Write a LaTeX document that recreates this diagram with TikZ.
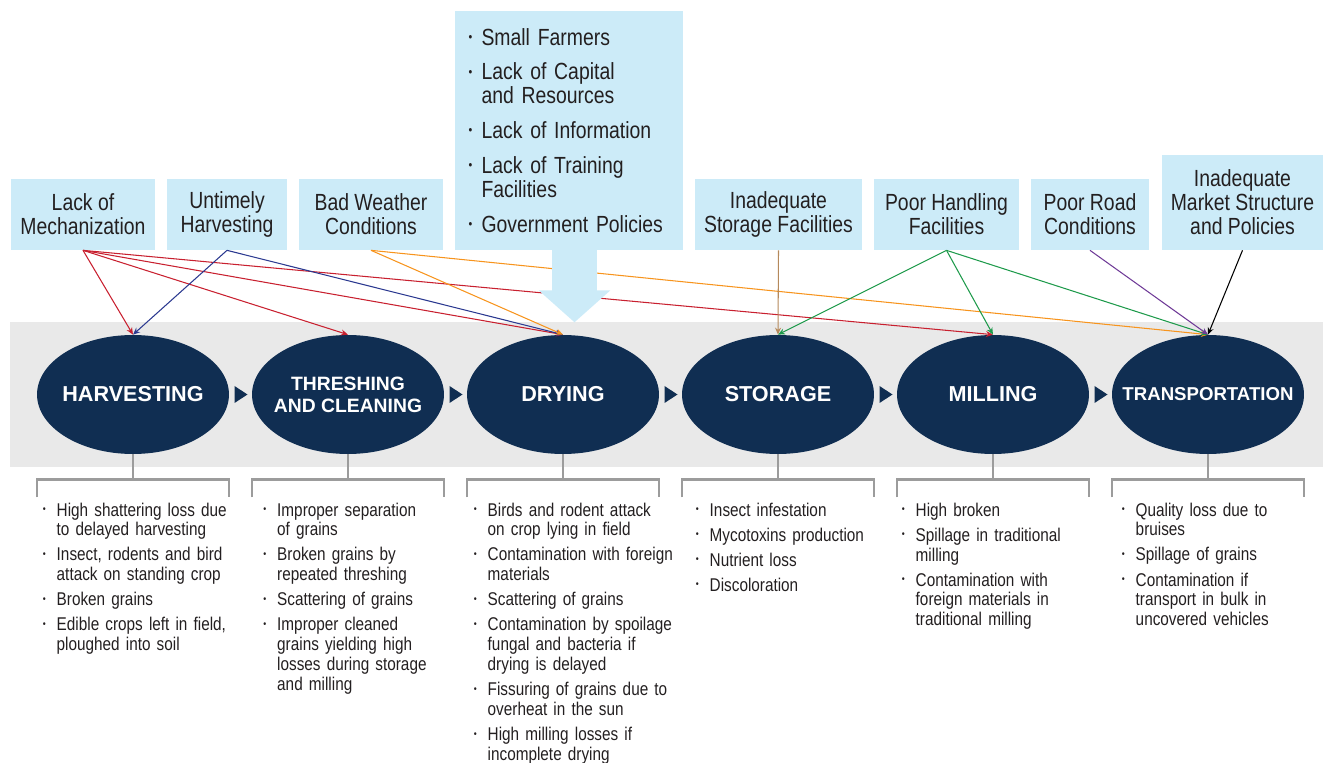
\documentclass[tikz,border=0pt]{standalone}
\usepackage{fontspec}
\setmainfont{Liberation Sans}[FakeStretch=0.83]
\newfontfamily\stagefont{Liberation Sans}
\usetikzlibrary{shapes.geometric,arrows.meta,calc}

\definecolor{navy}{HTML}{102E52}
\definecolor{paleblue}{HTML}{CCEBF8}
\definecolor{bandgray}{HTML}{E9E9E9}
\definecolor{brkgray}{HTML}{9C9C9C}
\definecolor{ink}{HTML}{231F20}
\definecolor{lred}{HTML}{C8202F}
\definecolor{lblue}{HTML}{2B3990}
\definecolor{lorange}{HTML}{F7941D}
\definecolor{ltan}{HTML}{B5895B}
\definecolor{lgreen}{HTML}{1E9A4B}
\definecolor{lpurple}{HTML}{6F3B97}

\newlength\blhang
\newlength\blgap
\newcommand\firstbl[1]{\noindent\hangindent=\blhang\hangafter=1%
  \makebox[\blhang][l]{\raisebox{0.17em}{\scalebox{0.55}{•}}}#1\par}
\newcommand\bl[1]{\vskip\blgap\firstbl{#1}}

\tikzset{
  cause/.style={fill=paleblue,text=ink,inner sep=0pt,minimum height=1.42cm,align=center,
    font=\fontsize{13.3}{13.6}\selectfont},
  stage/.style={ellipse,fill=navy,text=white,inner xsep=-1cm,inner ysep=-0.5cm,minimum width=3.84cm,
    minimum height=2.38cm,align=center,font=\stagefont\bfseries\fontsize{12.3}{13}\selectfont},
  loss/.style={anchor=north west,inner sep=0pt,text width=4cm,align=left,text=ink,
    font=\fontsize{10.5}{11.34}\selectfont\setlength\blhang{7.9pt}\setlength\blgap{2.9pt}},
  link/.style={line width=0.6pt,-{Stealth[length=4pt,width=3.4pt]}},
  brk/.style={draw=brkgray,line width=1.6pt},
}

\begin{document}
\begin{tikzpicture}[x=0.02cm,y=-0.02cm]
  \useasboundingbox (0,0) rectangle (1323,763);

  \fill[bandgray] (10,322) rectangle (1323,467);

  % causes
  \node[cause,minimum width=2.88cm] (mech) at (83,214.5) {Lack of\\Mechanization};
  \node[cause,minimum width=2.4cm] (untimely) at (227,214.5) {Untimely\\Harvesting};
  \node[cause,minimum width=2.88cm] (weather) at (371,214.5) {Bad Weather\\Conditions};
  \node[cause,minimum width=4.56cm,minimum height=4.78cm,text width=4.02cm,inner xsep=0.27cm,
    align=left,font=\fontsize{13.3}{13.6}\selectfont\setlength\blhang{7.4pt}\setlength\blgap{6.3pt}]
    (policy) at (569,130.5) {\firstbl{Small Farmers}\bl{Lack of Capital\newline and Resources}%
    \bl{Lack of Information}\bl{Lack of Training\newline Facilities}\bl{Government Policies}};
  \node[cause,minimum width=3.34cm] (storefac) at (778.5,214.5) {Inadequate\\Storage Facilities};
  \node[cause,minimum width=2.9cm] (handling) at (946.5,214.5) {Poor Handling\\Facilities};
  \node[cause,minimum width=2.36cm] (road) at (1090,214.5) {Poor Road\\Conditions};
  \node[cause,minimum width=3.22cm,minimum height=1.9cm] (market) at (1242.5,202.5)
    {Inadequate\\Market Structure\\and Policies};

  % stages
  \node[stage] (harv) at (133,394.5) {HARVESTING};
  \node[stage,font=\stagefont\bfseries\fontsize{11}{12.5}\selectfont] (thresh) at (348,394.5)
    {THRESHING\\AND CLEANING};
  \node[stage] (dry) at (563,394.5) {DRYING};
  \node[stage] (store) at (778,394.5) {STORAGE};
  \node[stage] (mill) at (993,394.5) {MILLING};
  \node[stage,font=\stagefont\bfseries\fontsize{10.6}{12}\selectfont] (transp) at (1208,394.5)
    {TRANSPORTATION};

  \foreach \a/\b in {harv/thresh,thresh/dry,dry/store,store/mill,mill/transp}
    \fill[navy] ($(\a.east)!0.5!(\b.west)$) ++(-6,-8.5) -- ++(13,8.5) -- ++(-13,8.5) -- cycle;

  \foreach \n in {harv,thresh,dry,store,mill,transp} {
    \draw[brk] (\n.south) -- ++(0,25);
    \draw[brk] ($(\n.south)+(-96,43)$) -- ++(0,-18) -- ++(192,0) -- ++(0,18);
  }

  % losses
  \node[loss] (harvloss) at ($(harv.south)+(-90.5,48)$)
    {\firstbl{High shattering loss due\newline to delayed harvesting}%
     \bl{Insect, rodents and bird\newline attack on standing crop}%
     \bl{Broken grains}%
     \bl{Edible crops left in field,\newline ploughed into soil}};
  \node[loss] (threshloss) at ($(thresh.south)+(-85,48)$)
    {\firstbl{Improper separation\newline of grains}%
     \bl{Broken grains by\newline repeated threshing}%
     \bl{Scattering of grains}%
     \bl{Improper cleaned\newline grains yielding high\newline losses during storage\newline and milling}};
  \node[loss] (dryloss) at ($(dry.south)+(-89.5,48)$)
    {\firstbl{Birds and rodent attack\newline on crop lying in field}%
     \bl{Contamination with foreign\newline materials}%
     \bl{Scattering of grains}%
     \bl{Contamination by spoilage\newline fungal and bacteria if\newline drying is delayed}%
     \bl{Fissuring of grains due to\newline overheat in the sun}%
     \bl{High milling losses if\newline incomplete drying}};
  \node[loss] (storeloss) at ($(store.south)+(-82.5,48)$)
    {\firstbl{Insect infestation}%
     \bl{Mycotoxins production}%
     \bl{Nutrient loss}%
     \bl{Discoloration}};
  \node[loss] (millloss) at ($(mill.south)+(-91.5,48)$)
    {\firstbl{High broken}%
     \bl{Spillage in traditional\newline milling}%
     \bl{Contamination with\newline foreign materials in\newline traditional milling}};
  \node[loss] (transploss) at ($(transp.south)+(-86.5,48)$)
    {\firstbl{Quality loss due to\newline bruises}%
     \bl{Spillage of grains}%
     \bl{Contamination if\newline transport in bulk in\newline uncovered vehicles}};

  % links
  \draw[link,lred] (mech.south) -- (harv.north);
  \draw[link,lred] (mech.south) -- (thresh.north);
  \draw[link,lred] (mech.south) -- (dry.north);
  \draw[link,lred] (mech.south) -- (mill.north);
  \draw[link,lblue] (untimely.south) -- (harv.north);
  \draw[link,lblue] (untimely.south) -- (dry.north);
  \draw[link,lorange] (weather.south) -- (dry.north);
  \draw[link,lorange] (weather.south) -- (transp.north);
  \draw[link,ltan] (storefac.south) -- (store.north);
  \draw[link,lgreen] (handling.south) -- (store.north);
  \draw[link,lgreen] (handling.south) -- (mill.north);
  \draw[link,lgreen] (handling.south) -- (transp.north);
  \draw[link,lpurple] (road.south) -- (transp.north);
  \draw[link,black] (market.south) -- (transp.north);

  \draw[paleblue,line width=0.9cm,-{Triangle[length=0.64cm,width=1.4cm]}]
    ([xshift=0.11cm]policy.south) -- ++(0,72);

\end{tikzpicture}
\end{document}
